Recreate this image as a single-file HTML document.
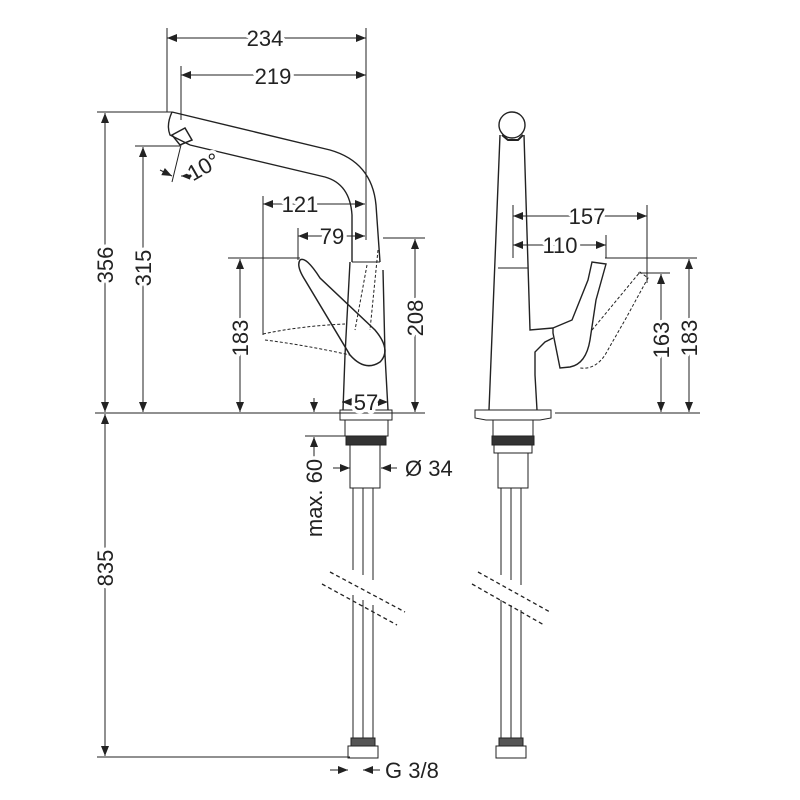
<!DOCTYPE html>
<html><head><meta charset="utf-8"><style>html,body{margin:0;padding:0;background:#fff}svg{display:block}text{font-family:"Liberation Sans",sans-serif;font-size:22px;fill:#222;stroke:#fff;stroke-width:7px;paint-order:stroke;stroke-linejoin:round}</style></head><body>
<svg width="800" height="800" viewBox="0 0 800 800" xmlns="http://www.w3.org/2000/svg">
<defs>
<marker id="a" viewBox="0 0 10 10" refX="10" refY="5" markerWidth="10" markerHeight="10" markerUnits="userSpaceOnUse" orient="auto-start-reverse"><path d="M0,1 L10,5 L0,9 z" fill="#222"/></marker>
</defs>
<g stroke="#222" stroke-width="1" fill="none">
<line x1="167" y1="28" x2="167" y2="112"/><line x1="366" y1="28" x2="366" y2="240"/>
<line x1="181" y1="66" x2="181" y2="120"/>
<line x1="97" y1="112" x2="172" y2="112"/><line x1="135" y1="146" x2="180" y2="146"/>
<line x1="263" y1="196" x2="263" y2="335"/><line x1="298" y1="228" x2="298" y2="260"/>
<line x1="228" y1="258" x2="300" y2="258"/><line x1="383" y1="238" x2="425" y2="238"/>
<line x1="95" y1="413" x2="425" y2="413"/><line x1="97" y1="757" x2="350" y2="757"/>
<line x1="305" y1="436" x2="350" y2="436"/>
<line x1="555" y1="413" x2="700" y2="413"/>
<line x1="513" y1="205" x2="513" y2="258"/><line x1="647" y1="205" x2="647" y2="283"/>
<line x1="606" y1="235" x2="606" y2="258"/>
<line x1="605" y1="258" x2="697" y2="258"/><line x1="638" y1="273" x2="670" y2="273"/>
<g marker-start="url(#a)" marker-end="url(#a)">
<line x1="167" y1="38" x2="366" y2="38"/>
<line x1="181" y1="75" x2="366" y2="75"/>
<line x1="105" y1="113" x2="105" y2="412"/>
<line x1="143" y1="147" x2="143" y2="412"/>
<line x1="263" y1="204" x2="365" y2="204"/>
<line x1="298" y1="236" x2="365" y2="236"/>
<line x1="240" y1="259" x2="240" y2="412"/>
<line x1="415" y1="239" x2="415" y2="412"/>
<line x1="342" y1="402" x2="388" y2="402"/>
<line x1="105" y1="414" x2="105" y2="756"/>
<line x1="513" y1="216" x2="647" y2="216"/>
<line x1="513" y1="245" x2="606" y2="245"/>
<line x1="661" y1="274" x2="661" y2="412"/>
<line x1="689" y1="259" x2="689" y2="412"/>
</g>
<g marker-end="url(#a)">
<line x1="314" y1="398" x2="314" y2="412"/><line x1="314" y1="452" x2="314" y2="437"/>
<line x1="333" y1="468" x2="350" y2="468"/><line x1="397" y1="468" x2="381" y2="468"/>
<line x1="330" y1="770" x2="348" y2="770"/><line x1="380" y1="770" x2="363" y2="770"/>
<line x1="160" y1="170" x2="172" y2="176"/><line x1="198" y1="176" x2="181" y2="176"/>
</g>
<line x1="314" y1="452" x2="314" y2="460"/>
<line x1="181" y1="145" x2="172" y2="182"/>
<path d="M172,112 L330,150 Q372,162 376,205 L380,262" stroke-width="1.4"/>
<path d="M190,145 L325,177 Q350,184 352,215 L352,262" stroke-width="1.4"/>
<path d="M172,112 Q166,125 170,135 L190,145" stroke-width="1.4"/>
<path d="M172,135 L185,128 L192,140 L180,145 z" stroke-width="1.5"/>
<line x1="352" y1="262" x2="380" y2="262"/>
<path d="M350,262 L345,355 L343,410 M383,270 L385,355 L388,410" stroke-width="1.4"/>
<path d="M340,410 L392,410 L392,420 L340,420 z"/>
<path d="M345,420 L388,420 L388,436 L345,436 z"/>
<rect x="346" y="436" width="40" height="9" fill="#333"/>
<rect x="350" y="445" width="30" height="43"/>
<path d="M353,488 L353,570 M363,488 L363,575 M373,488 L373,580 M353,595 L353,745 M363,600 L363,745 M373,605 L373,745"/>
<rect x="351" y="738" width="24" height="8" fill="#555"/>
<rect x="348" y="746" width="30" height="12"/>
<path d="M300,260 Q306,256 320,278 L375,330 Q392,350 380,362 Q365,372 350,355 L305,280 Q296,266 300,260 z" stroke-width="1.5"/>
<path d="M263,334 Q300,326 345,324 M265,340 Q305,345 350,355 M367,265 L355,330 M378,250 L370,330" stroke-dasharray="3,2"/>
<path d="M330,572 L405,612 M322,584 L397,625 M478,572 L550,612 M472,584 L544,625" stroke-dasharray="4,3" stroke-width="1.3"/>
<circle cx="512" cy="125" r="13" stroke-width="1.4"/>
<path d="M502,135 L508,140 L518,140 L523,135" stroke-width="2"/>
<path d="M500,135 L489,410 M524,135 L530,330 L553,328" stroke-width="1.4"/>
<path d="M553,328 L572,320 L588,280 L592,262 L606,264 L596,300 L590,340 Q586,364 570,367 L560,368 L553,333 L553,328" stroke-width="1.4"/>
<path d="M553,338 L545,342 L535,352 L535,375 L537,410" stroke-width="1.4"/>
<line x1="498" y1="268" x2="528" y2="268"/>
<path d="M592,330 L640,272 L648,278 L625,320 L605,355 Q595,370 580,368" stroke-dasharray="3,2"/>
<path d="M475,410 L551,410 L551,418 L540,420 L486,420 L475,418 z"/>
<path d="M493,420 L533,420 L533,436 L493,436 z"/>
<rect x="492" y="436" width="42" height="9" fill="#333"/>
<rect x="494" y="445" width="38" height="8"/>
<rect x="498" y="453" width="30" height="35"/>
<path d="M501,488 L501,575 M511,488 L511,580 M521,488 L521,585 M501,600 L501,745 M511,605 L511,745 M521,610 L521,745"/>
<rect x="499" y="738" width="24" height="8" fill="#555"/>
<rect x="496" y="746" width="30" height="12"/>
</g>
<g text-anchor="middle">
<text x="265" y="46">234</text>
<text x="273" y="84">219</text>
<text x="300" y="212">121</text>
<text x="332" y="244">79</text>
<text x="366" y="410">57</text>
<text x="587" y="224">157</text>
<text x="560" y="253">110</text>
<text transform="translate(113,265) rotate(-90)">356</text>
<text transform="translate(151,268) rotate(-90)">315</text>
<text transform="translate(248,338) rotate(-90)">183</text>
<text transform="translate(423,318) rotate(-90)">208</text>
<text transform="translate(113,568) rotate(-90)">835</text>
<text transform="translate(322,498) rotate(-90)">max. 60</text>
<text transform="translate(669,340) rotate(-90)">163</text>
<text transform="translate(697,338) rotate(-90)">183</text>
</g>
<text x="186" y="176" transform="rotate(-30 200 166)">10°</text>
<text x="405" y="476">Ø 34</text>
<text x="385" y="778">G 3/8</text>
</svg>
</body></html>
